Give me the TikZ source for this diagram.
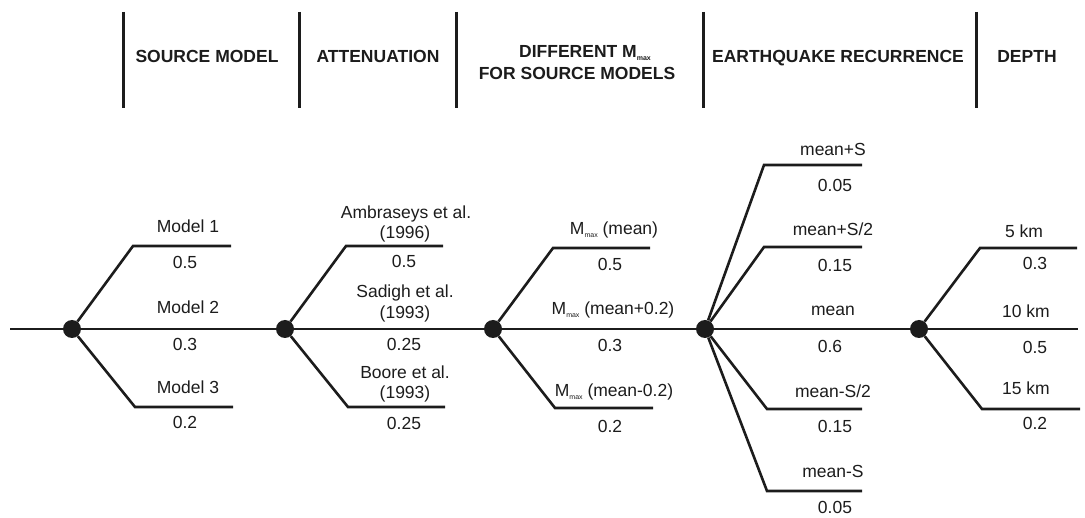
\documentclass[tikz,border=0pt]{standalone}
\usepackage{fontspec}
\setmainfont{Liberation Sans}
\definecolor{ink}{RGB}{28,28,28}
\newcommand{\Mmx}{M\raisebox{-0.25ex}{\fontsize{7}{7}\selectfont max}}
\begin{document}
\begin{tikzpicture}[x=1pt,y=-1pt,
  branch/.style={line width=2.6pt, draw=ink, line join=miter},
  bar/.style={line width=3pt, draw=ink},
  dot/.style={circle, fill=ink, inner sep=0pt, minimum size=18pt},
  lbl/.style={font=\fontsize{17.5}{20}\selectfont, text=ink, anchor=base, inner sep=0pt},
  hdr/.style={font=\fontsize{17.5}{20}\selectfont\bfseries, text=ink, anchor=base, inner sep=0pt}]
\useasboundingbox (0,0) rectangle (1085,518);

% header bars
\foreach \i/\x in {1/123,2/299,3/456,4/703,5/976}{
  \coordinate (bt\i) at (\x,12);
  \coordinate (bb\i) at (\x,108);
  \draw[bar] (bt\i) -- (bb\i);
}
\node[hdr] (h1) at (207,63) {SOURCE MODEL};
\node[hdr] (h2) at (378,63) {ATTENUATION};
\node[hdr] (h3a) at (585,58) {DIFFERENT \Mmx};
\node[hdr] (h3b) at (577,80) {FOR SOURCE MODELS};
\node[hdr] (h4) at (838,63) {EARTHQUAKE RECURRENCE};
\node[hdr] (h5) at (1027,63) {DEPTH};

% tree nodes
\coordinate (start) at (10,329);
\node[dot] (n1) at (72,329) {};
\node[dot] (n2) at (285,329) {};
\node[dot] (n3) at (493,329) {};
\node[dot] (n4) at (705,329) {};
\node[dot] (n5) at (919,329) {};
\coordinate (end) at (1078,329);

% branch corners
\coordinate (a1) at (133,246); \coordinate (a1e) at (231,246);
\coordinate (c1) at (135,407); \coordinate (c1e) at (233,407);
\coordinate (a2) at (346,246); \coordinate (a2e) at (443,246);
\coordinate (c2) at (348,407); \coordinate (c2e) at (445,407);
\coordinate (a3) at (553,248); \coordinate (a3e) at (650,248);
\coordinate (c3) at (555,408); \coordinate (c3e) at (653,408);
\coordinate (p1) at (764,165); \coordinate (p1e) at (862,165);
\coordinate (p2) at (764,247); \coordinate (p2e) at (862,247);
\coordinate (m2) at (767,409); \coordinate (m2e) at (862,409);
\coordinate (m1) at (767,491); \coordinate (m1e) at (862,491);
\coordinate (a5) at (980,248); \coordinate (a5e) at (1077,248);
\coordinate (c5) at (982,409); \coordinate (c5e) at (1080,409);

% connectors
\draw[branch] (start) -- (n1);
\draw[branch] (n1) -- (n2);
\draw[branch] (n2) -- (n3);
\draw[branch] (n3) -- (n4);
\draw[branch] (n4) -- (n5);
\draw[branch] (n5) -- (end);
\draw[branch] (n1) -- (a1) -- (a1e);
\draw[branch] (n1) -- (c1) -- (c1e);
\draw[branch] (n2) -- (a2) -- (a2e);
\draw[branch] (n2) -- (c2) -- (c2e);
\draw[branch] (n3) -- (a3) -- (a3e);
\draw[branch] (n3) -- (c3) -- (c3e);
\draw[branch] (n4) -- (p1) -- (p1e);
\draw[branch] (n4) -- (p2) -- (p2e);
\draw[branch] (n4) -- (m2) -- (m2e);
\draw[branch] (n4) -- (m1) -- (m1e);
\draw[branch] (n5) -- (a5) -- (a5e);
\draw[branch] (n5) -- (c5) -- (c5e);

% labels: source model
\node[lbl] (l11) at (188,233) {Model 1};
\node[lbl] (w11) at (185,269) {0.5};
\node[lbl] (l12) at (188,314) {Model 2};
\node[lbl] (w12) at (185,351) {0.3};
\node[lbl] (l13) at (188,394) {Model 3};
\node[lbl] (w13) at (185,429) {0.2};

% labels: attenuation
\node[lbl] (l21a) at (406,219) {Ambraseys et al.};
\node[lbl] (l21b) at (405,239) {(1996)};
\node[lbl] (w21) at (404,268) {0.5};
\node[lbl] (l22a) at (405,298) {Sadigh et al.};
\node[lbl] (l22b) at (405,319) {(1993)};
\node[lbl] (w22) at (404,351) {0.25};
\node[lbl] (l23a) at (405,379) {Boore et al.};
\node[lbl] (l23b) at (405,399) {(1993)};
\node[lbl] (w23) at (404,430) {0.25};

% labels: Mmax
\node[lbl] (l31) at (614,235) {\Mmx{} (mean)};
\node[lbl] (w31) at (610,271) {0.5};
\node[lbl] (l32) at (613,315) {\Mmx{} (mean+0.2)};
\node[lbl] (w32) at (610,352) {0.3};
\node[lbl] (l33) at (614,397) {\Mmx{} (mean-0.2)};
\node[lbl] (w33) at (610,433) {0.2};

% labels: recurrence
\node[lbl] (l41) at (833,156) {mean+S};
\node[lbl] (w41) at (835,192) {0.05};
\node[lbl] (l42) at (833,236) {mean+S/2};
\node[lbl] (w42) at (835,272) {0.15};
\node[lbl] (l43) at (833,316) {mean};
\node[lbl] (w43) at (830,353) {0.6};
\node[lbl] (l44) at (833,398) {mean-S/2};
\node[lbl] (w44) at (835,433) {0.15};
\node[lbl] (l45) at (833,478) {mean-S};
\node[lbl] (w45) at (835,514) {0.05};

% labels: depth
\node[lbl] (l51) at (1024,238) {5 km};
\node[lbl] (w51) at (1035,270) {0.3};
\node[lbl] (l52) at (1026,318) {10 km};
\node[lbl] (w52) at (1035,354) {0.5};
\node[lbl] (l53) at (1026,395) {15 km};
\node[lbl] (w53) at (1035,430) {0.2};
\end{tikzpicture}
\end{document}
